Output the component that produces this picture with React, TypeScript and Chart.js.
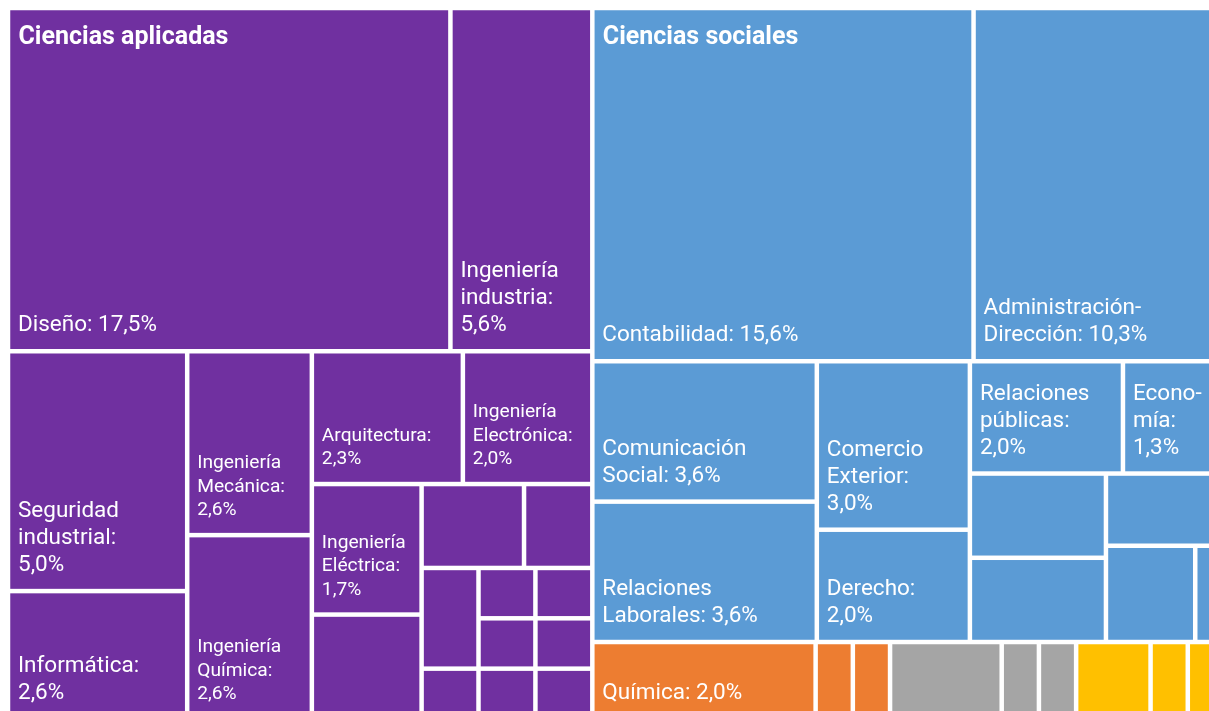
import React, { useEffect, useRef } from 'react';
import { Chart, registerables } from 'chart.js';

Chart.register(...registerables);

// ---------------- Data ----------------
// Counts per career (the labels show each count as a share of the grand total).
// Careers whose names are not legible in the picture are left unnamed ('').
const groupNames = ['Ciencias aplicadas', 'Ciencias sociales', '', '', ''];

const aplicadasCareers = [
  'Diseño', 'Ingeniería industria', 'Seguridad industrial', 'Informática',
  'Ingeniería Mecánica', 'Ingeniería Química', 'Arquitectura',
  'Ingeniería Electrónica', 'Ingeniería Eléctrica',
  '', '', '', '', '', '', '', '', '', '', '',
];
const aplicadasCounts = [53, 17, 15, 8, 8, 8, 7, 6, 5, 4, 3, 2, 2, 1, 1, 1, 1, 1, 1, 1];

const socialesCareers = [
  'Contabilidad', 'Administración-Dirección', 'Comunicación Social',
  'Relaciones Laborales', 'Comercio Exterior', 'Derecho',
  'Relaciones públicas', 'Economía', '', '', '', '', '',
];
const socialesCounts = [47, 31, 11, 11, 9, 6, 6, 4, 4, 4, 3, 3, 1];

const naranjaCareers = ['Química', '', ''];
const naranjaCounts = [6, 1, 1];

const grisCareers = ['', '', ''];
const grisCounts = [3, 1, 1];

const amarilloCareers = ['', '', ''];
const amarilloCounts = [2, 1, 1];

// ---------------- Styles / layout settings ----------------
const groupColors = ['#7030A0', '#5B9BD5', '#ED7D31', '#A5A5A5', '#FFC000'];
const smallLabelCareers = new Set([
  'Ingeniería Mecánica', 'Ingeniería Química', 'Arquitectura',
  'Ingeniería Electrónica', 'Ingeniería Eléctrica',
]);
const DOMAIN_W = 1217;
const DOMAIN_H = 711;
const SQUARIFY_RATIO = 1.0395;
const CELL_GAP = 2.25;
const FONT_FAMILY = 'Roboto, "Noto Sans", sans-serif';

type Rect = { x0: number; y0: number; x1: number; y1: number };

// Squarified treemap (same procedure as d3.treemapSquarify with a ratio)
function squarify(values: number[], X0: number, Y0: number, X1: number, Y1: number, ratio: number): Rect[] {
  const order = values.map((_, i) => i).sort((a, b) => values[b] - values[a]);
  const nodes = order.map((i) => ({ i, value: values[i], x0: 0, y0: 0, x1: 0, y1: 0 }));
  let x0 = X0, y0 = Y0;
  const x1 = X1, y1 = Y1;
  let value = nodes.reduce((s, n) => s + n.value, 0);
  const n = nodes.length;
  let i0 = 0, i1 = 0;
  while (i0 < n) {
    const dx = x1 - x0, dy = y1 - y0;
    let sumValue = 0;
    do { sumValue = nodes[i1++].value; } while (!sumValue && i1 < n);
    let minValue = sumValue, maxValue = sumValue;
    const alpha = Math.max(dy / dx, dx / dy) / (value * ratio);
    let beta = sumValue * sumValue * alpha;
    let minRatio = Math.max(maxValue / beta, beta / minValue);
    for (; i1 < n; ++i1) {
      const nodeValue = nodes[i1].value;
      sumValue += nodeValue;
      if (nodeValue < minValue) minValue = nodeValue;
      if (nodeValue > maxValue) maxValue = nodeValue;
      beta = sumValue * sumValue * alpha;
      const newRatio = Math.max(maxValue / beta, beta / minValue);
      if (newRatio > minRatio) { sumValue -= nodeValue; break; }
      minRatio = newRatio;
    }
    const row = nodes.slice(i0, i1);
    if (dx < dy) {
      const yEnd = value ? y0 + (dy * sumValue) / value : y1;
      let x = x0;
      for (const nd of row) {
        const w = ((x1 - x0) * nd.value) / sumValue;
        nd.x0 = x; nd.x1 = x + w; nd.y0 = y0; nd.y1 = yEnd; x += w;
      }
      y0 = yEnd;
    } else {
      const xEnd = value ? x0 + (dx * sumValue) / value : x1;
      let y = y0;
      for (const nd of row) {
        const h = ((y1 - y0) * nd.value) / sumValue;
        nd.y0 = y; nd.y1 = y + h; nd.x0 = x0; nd.x1 = xEnd; y += h;
      }
      x0 = xEnd;
    }
    value -= sumValue;
    i0 = i1;
  }
  const out: Rect[] = new Array(values.length);
  nodes.forEach((nd) => { out[nd.i] = { x0: nd.x0, y0: nd.y0, x1: nd.x1, y1: nd.y1 }; });
  return out;
}

function hyphenate(ctx: CanvasRenderingContext2D, word: string, hardW: number): string[] {
  const out: string[] = [];
  let rest = word;
  while (ctx.measureText(rest).width > hardW && rest.length > 3) {
    let k = rest.length - 1;
    while (k > 2 && ctx.measureText(rest.slice(0, k) + '-').width > hardW) k--;
    out.push(rest.slice(0, k) + '-');
    rest = rest.slice(k);
  }
  out.push(rest);
  return out;
}

function wrapText(ctx: CanvasRenderingContext2D, text: string, maxW: number, hardW: number): string[] {
  const toks: { t: string; space: boolean }[] = [];
  text.split(' ').forEach((w) => {
    w.split(/(?<=-)/).forEach((p, idx) => toks.push({ t: p, space: idx === 0 }));
  });
  const lines: string[] = [];
  let cur = '';
  for (const tok of toks) {
    const pieces = ctx.measureText(tok.t).width > hardW ? hyphenate(ctx, tok.t, hardW) : [tok.t];
    pieces.forEach((p, pi) => {
      if (cur === '') { cur = p; return; }
      const cand = cur + (pi === 0 && tok.space ? ' ' : '') + p;
      if (pi === 0 && ctx.measureText(cand).width <= maxW) cur = cand;
      else { lines.push(cur); cur = p; }
    });
  }
  if (cur) lines.push(cur);
  return lines;
}

const sum = (a: number[]) => a.reduce((s, v) => s + v, 0);

const treemapPlugin = {
  id: 'treemapCells',
  afterDatasetsDraw(chart: any) {
    const ctx: CanvasRenderingContext2D = chart.ctx;
    const xs = chart.scales.x;
    const ys = chart.scales.y;
    const groups = [
      { names: aplicadasCareers, values: aplicadasCounts },
      { names: socialesCareers, values: socialesCounts },
      { names: naranjaCareers, values: naranjaCounts },
      { names: grisCareers, values: grisCounts },
      { names: amarilloCareers, values: amarilloCounts },
    ];
    const total = sum(groups.map((g) => sum(g.values)));
    const groupRects = squarify(groups.map((g) => sum(g.values)), 0, 0, DOMAIN_W, DOMAIN_H, SQUARIFY_RATIO);

    ctx.save();
    groups.forEach((g, gi) => {
      const gr = groupRects[gi];
      const leaves = squarify(g.values, gr.x0, gr.y0, gr.x1, gr.y1, SQUARIFY_RATIO);
      leaves.forEach((r, li) => {
        const left = xs.getPixelForValue(r.x0);
        const right = xs.getPixelForValue(r.x1);
        const top = ys.getPixelForValue(r.y0);
        const bottom = ys.getPixelForValue(r.y1);
        const w = right - left;
        const h = bottom - top;
        ctx.fillStyle = groupColors[gi];
        ctx.fillRect(left + CELL_GAP, top + CELL_GAP, w - 2 * CELL_GAP, h - 2 * CELL_GAP);

        const name = g.names[li];
        if (!name) return;
        const pct = ((g.values[li] / total) * 100).toFixed(1).replace('.', ',') + '%';
        const small = smallLabelCareers.has(name);
        const size = small ? 19.2 : 22.5;
        const lh = small ? 23.5 : 27;
        ctx.font = `${size}px ${FONT_FAMILY}`;
        const lines = wrapText(ctx, `${name}: ${pct}`, w - 34, w - 16);
        ctx.save();
        ctx.beginPath();
        ctx.rect(left + CELL_GAP, top + CELL_GAP, w - 2 * CELL_GAP, h - 2 * CELL_GAP);
        ctx.clip();
        ctx.fillStyle = '#ffffff';
        ctx.textAlign = 'left';
        ctx.textBaseline = 'alphabetic';
        const lastBase = bottom - 20;
        lines.forEach((ln, i) => {
          ctx.fillText(ln, left + 10, lastBase - (lines.length - 1 - i) * lh);
        });
        ctx.restore();
      });

      if (groupNames[gi]) {
        const left = xs.getPixelForValue(gr.x0);
        const top = ys.getPixelForValue(gr.y0);
        ctx.font = `bold 25px ${FONT_FAMILY}`;
        ctx.fillStyle = '#ffffff';
        ctx.textAlign = 'left';
        ctx.textBaseline = 'alphabetic';
        ctx.fillText(groupNames[gi], left + 10.5, top + 36);
      }
    });
    ctx.restore();
  },
};

export default function App() {
  const canvasRef = useRef<HTMLCanvasElement | null>(null);

  useEffect(() => {
    const canvas = canvasRef.current;
    if (!canvas) return;
    const chart = new Chart(canvas, {
      type: 'scatter',
      data: { datasets: [{ data: [] }] },
      options: {
        responsive: false,
        animation: false,
        devicePixelRatio: 1,
        events: [],
        layout: { padding: 0 },
        plugins: { legend: { display: false }, tooltip: { enabled: false } },
        scales: {
          x: { type: 'linear', min: 0, max: DOMAIN_W, display: false },
          y: { type: 'linear', min: 0, max: DOMAIN_H, reverse: true, display: false },
        },
      },
      plugins: [treemapPlugin],
    } as any);
    let alive = true;
    if ((document as any).fonts && (document as any).fonts.ready) {
      (document as any).fonts.ready.then(() => { if (alive) chart.draw(); });
    }
    return () => { alive = false; chart.destroy(); };
  }, []);

  return (
    <div style={{ position: 'fixed', left: 8, top: 8, width: 1201, height: 703, overflow: 'hidden', background: '#fff' }}>
      <canvas ref={canvasRef} width={DOMAIN_W} height={DOMAIN_H} style={{ display: 'block', width: DOMAIN_W, height: DOMAIN_H }} />
    </div>
  );
}
